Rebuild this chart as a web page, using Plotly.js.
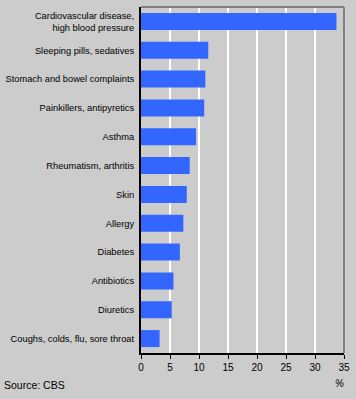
<!DOCTYPE html>
<html>
<head>
<meta charset="utf-8">
<script src="https://cdn.plot.ly/plotly-3.0.1.min.js"></script>
<style>
html,body{margin:0;padding:0;background:#cccccc;}
#chart{width:356px;height:399px;}
</style>
</head>
<body>
<div id="chart"></div>
<script>
const categories = [
  "Cardiovascular disease,<br>high blood pressure",
  "Sleeping pills, sedatives",
  "Stomach and bowel complaints",
  "Painkillers, antipyretics",
  "Asthma",
  "Rheumatism, arthritis",
  "Skin",
  "Allergy",
  "Diabetes",
  "Antibiotics",
  "Diuretics",
  "Coughs, colds, flu, sore throat"
];
const values = [33.7, 11.6, 11.1, 10.9, 9.5, 8.4, 7.9, 7.3, 6.7, 5.6, 5.3, 3.2];
const xTicks = [0, 5, 10, 15, 20, 25, 30, 35];

const font = {family: "Liberation Sans, Arial, sans-serif", size: 9.3, color: "#000"};

const data = [{
  type: "bar",
  orientation: "h",
  y: categories,
  x: values,
  marker: {color: "#3366ff", line: {width: 0}},
  hoverinfo: "none"
}];

const layout = {
  width: 356, height: 399,
  paper_bgcolor: "#cccccc",
  plot_bgcolor: "#cccccc",
  margin: {l: 141, r: 12, t: 7, b: 46, pad: 0},
  bargap: 0.41,
  showlegend: false,
  font: font,
  xaxis: {
    range: [0, 35],
    tickvals: xTicks,
    ticktext: xTicks.map(String),
    showgrid: true, gridcolor: "#ffffff", gridwidth: 2,
    zeroline: false,
    showline: true, linecolor: "#000", linewidth: 2,
    ticks: "outside", ticklen: 4, tickcolor: "#000", tickwidth: 1,
    tickfont: {family: font.family, size: 10, color: "#000"},
    fixedrange: true
  },
  yaxis: {
    type: "category",
    autorange: "reversed",
    showgrid: false, zeroline: false,
    showline: true, linecolor: "#000", linewidth: 2,
    ticks: "", ticklabelstandoff: 3,
    tickfont: font,
    fixedrange: true
  },
  shapes: [
    {type: "line", xref: "paper", yref: "paper", x0: 0, x1: 1, y0: 1, y1: 1, line: {color: "#808080", width: 2}},
    {type: "line", xref: "paper", yref: "paper", x0: 1, x1: 1, y0: 0, y1: 1, line: {color: "#808080", width: 2}}
  ],
  annotations: [
    {text: "<i>%</i>", xref: "paper", yref: "paper", x: 1, y: 0, xanchor: "right", yanchor: "top", xshift: 2, yshift: -23, showarrow: false, font: {family: font.family, size: 10, color: "#000"}},
    {text: "Source: CBS", xref: "paper", yref: "paper", x: 0, y: 0, xanchor: "left", yanchor: "top", xshift: -139, yshift: -24, showarrow: false, font: {family: font.family, size: 10.5, color: "#000"}}
  ]
};

Plotly.newPlot("chart", data, layout, {displayModeBar: false, staticPlot: true});
</script>
</body>
</html>
